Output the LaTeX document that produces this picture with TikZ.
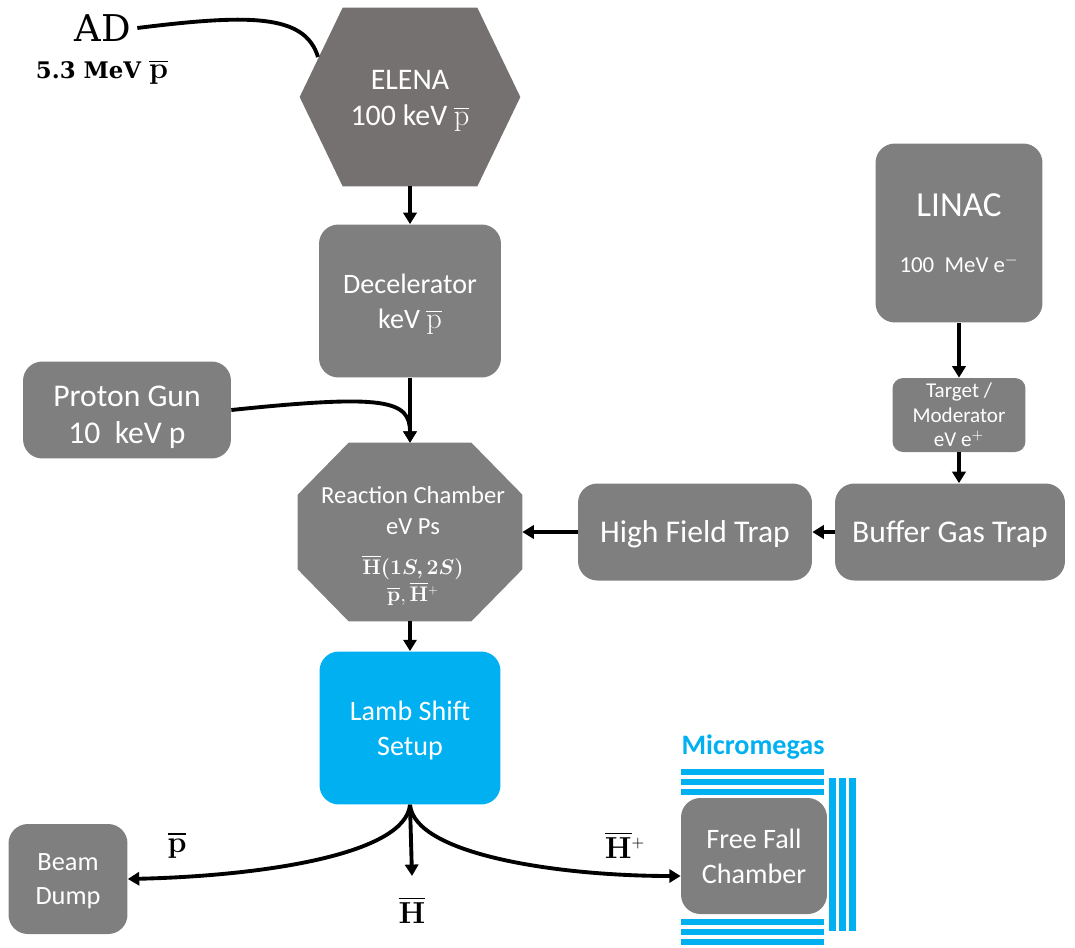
\documentclass[tikz,border=0pt]{standalone}
\usepackage[no-math]{fontspec}
\setsansfont{Carlito}
\newfontfamily\adfont{DejaVu Serif}
\usepackage{amsmath, amssymb, bm}
\usetikzlibrary{arrows.meta, calc}
\definecolor{boxgray}{HTML}{7F7F7F}
\definecolor{elenagray}{HTML}{767171}
\definecolor{lambblue}{HTML}{00B0F0}

\begin{document}
\begin{tikzpicture}[x=0.02cm, y=-0.02cm,
	box/.style={fill=boxgray, rounded corners=11pt, text=white, font=\sffamily\fontsize{16}{20}\selectfont, align=center, inner sep=0pt, text depth=0pt},
	frame/.style={inner sep=0pt},
	arr/.style={-{Triangle[length=6.5pt, width=7.5pt]}, line width=2.2pt},
	link/.style={line width=2.2pt},
	beamlbl/.style={font=\fontsize{19}{22}\selectfont}]
	\useasboundingbox (0,0) rectangle (1075,947);
	% antiproton line
	\node (ad) at (103,28) {\adfont\fontsize{21}{25}\selectfont AD};
	\node (adlbl) at (102,72) {\adfont\bfseries\fontsize{13}{16}\selectfont 5.3 MeV {\fontsize{17}{18}\selectfont$\overline{\mathbf{p}}$}};
	\node[frame, minimum width=4.4cm, minimum height=3.56cm] (elena) at (410,97) {};
	\fill[elenagray] (elena.west) -- ([xshift=0.86cm]elena.north west) -- ([xshift=-0.86cm]elena.north east)
		-- (elena.east) -- ([xshift=-0.86cm]elena.south east) -- ([xshift=0.86cm]elena.south west) -- cycle;
	\node[text=white, align=center, font=\sffamily\fontsize{17}{20.5}\selectfont] (elenatxt) at (410,101) {ELENA\\100 keV $\overline{\mathrm{p}}$};
	\coordinate (adin) at (318,57);
	\node[box, minimum width=3.64cm, minimum height=3.06cm] (decel) at (410,301) {Decelerator\\keV $\overline{\mathrm{p}}$};
	\node[box, minimum width=4.16cm, minimum height=1.94cm, font=\sffamily\fontsize{18}{21}\selectfont] (pgun) at (127,410) {\rule{0pt}{17pt}Proton Gun\\10~~keV p};
	% reaction chamber
	\node[frame, minimum width=4.48cm, minimum height=3.56cm] (rc) at (410,532) {};
	\fill[boxgray] ([xshift=1.02cm]rc.north west) -- ([xshift=-1.02cm]rc.north east) -- ([yshift=-1.04cm]rc.north east)
		-- ([yshift=1.04cm]rc.south east) -- ([xshift=-1.02cm]rc.south east) -- ([xshift=1.02cm]rc.south west)
		-- ([yshift=1.04cm]rc.south west) -- ([yshift=-1.04cm]rc.north west) -- cycle;
	\node[text=white, align=center, font=\sffamily\fontsize{14}{17.5}\selectfont] (rctxt) at (413,546)
		{Reaction Chamber\\eV Ps\\[5pt]{\fontsize{12.5}{15}\selectfont$\boldsymbol{\overline{\mathrm{H}}(1S,2S)}$}\\[-2pt]{\fontsize{12.5}{15}\selectfont$\overline{\mathbf{p}},\overline{\mathbf{H}}{}^{\scriptscriptstyle+}$}};
	\node[box, fill=lambblue, minimum width=3.62cm, minimum height=3.06cm] (lamb) at (410,728) {Lamb Shift\\Setup};
	% positron line
	\node[box, minimum width=3.34cm, minimum height=3.58cm] (linac) at (959,233)
		{{\fontsize{20}{23}\selectfont LINAC}\\[12pt]{\fontsize{13}{16}\selectfont 100~~MeV e$^{-}$}};
	\node[box, rounded corners=6pt, minimum width=2.66cm, minimum height=1.48cm, font=\sffamily\fontsize{12}{14}\selectfont] (target) at (959,415) {Target /\\Moderator\\eV e$^{+}$};
	\node[box, minimum width=4.6cm, minimum height=1.94cm, font=\sffamily\fontsize{18}{21}\selectfont] (bgt) at (950,532) {Buffer Gas Trap};
	\node[box, minimum width=4.68cm, minimum height=1.94cm, font=\sffamily\fontsize{18}{21}\selectfont] (hft) at (695,532) {High Field Trap};
	% outputs
	\node[box, minimum width=2.38cm, minimum height=2.2cm, font=\sffamily\fontsize{15}{19}\selectfont] (dump) at (68,879) {Beam\\Dump};
	\node[box, minimum width=2.92cm, minimum height=2.32cm] (ffc) at (754,856) {Free Fall\\Chamber};
	\node[font=\sffamily\bfseries\fontsize{16}{19}\selectfont, text=lambblue] (mmlbl) at (753,747) {Micromegas};
	\foreach \y in {769,779,789,919,929,939}
		\fill[lambblue] (681,\y) rectangle (824,\y+6);
	\foreach \x in {829,839,849}
		\fill[lambblue] (\x,778) rectangle (\x+7,931);
	\node[beamlbl] (pbar) at (177,845) {$\overline{\mathbf{p}}$};
	\node[beamlbl] (hbar) at (412,910) {$\overline{\mathbf{H}}$};
	\node[beamlbl] (hplus) at (625,845) {$\overline{\mathbf{H}}{}^{\scriptscriptstyle+}$};
	% connectors
	\draw[link] (ad.east) .. controls (250,14) and (305,14) .. (adin);
	\draw[arr] (elena.south) -- (decel.north);
	\draw[arr] (decel.south) -- (rc.north);
	\draw[arr] (pgun.east) .. controls (385,394) and (410,400) .. (rc.north);
	\draw[arr] (rc.south) -- (lamb.north);
	\draw[arr] (linac.south) -- (target.north);
	\draw[arr] (target.south) -- (target.south |- bgt.north);
	\draw[arr] (bgt.west) -- (hft.east);
	\draw[arr] (hft.west) -- (rc.east |- hft.west);
	\draw[arr] (lamb.south) -- ([yshift=8pt]hbar.north);
	\draw[arr] (lamb.south) .. controls (405,855) and (260,876) .. (dump.east);
	\draw[arr] (lamb.south) .. controls (415,855) and (560,876) .. ([yshift=-0.4cm]ffc.west);
\end{tikzpicture}
\end{document}
